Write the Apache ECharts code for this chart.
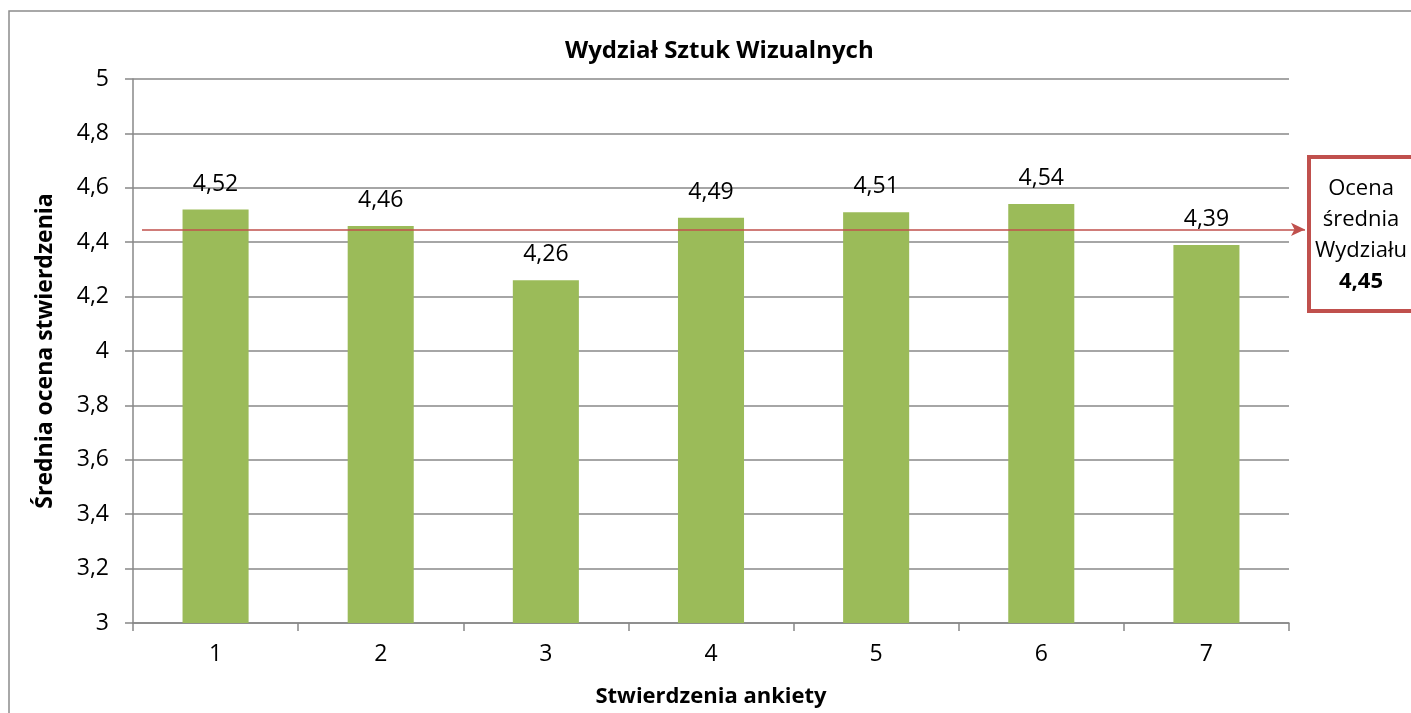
<!DOCTYPE html>
<html>
<head>
<meta charset="utf-8">
<script src="https://cdn.jsdelivr.net/npm/echarts@6/dist/echarts.min.js"></script>
<style>
  html, body { margin: 0; padding: 0; background: #fff; }
  #chart { width: 1411px; height: 713px; }
</style>
</head>
<body>
<div id="chart"></div>
<script>
// dane wykresu
const categories = ["1", "2", "3", "4", "5", "6", "7"];
const scores = [4.52, 4.46, 4.26, 4.49, 4.51, 4.54, 4.39];
const facultyMean = 4.45;
const yTicks = { min: 3, max: 5, step: 0.2 };

const fontFamily = "'Open Sans', sans-serif";
const fmt = (v) => String(Math.round(v * 100) / 100).replace(".", ",");

const chart = echarts.init(document.getElementById("chart"));

const option = {
  animation: false,
  textStyle: { fontFamily },
  title: {
    text: "Wydział Sztuk Wizualnych",
    left: 560,
    top: 34,
    textStyle: { fontSize: 24, fontWeight: "bold", color: "#000", fontFamily },
  },
  grid: [
    { left: 133, right: 122, top: 79, bottom: 87 },
    // druga siatka tylko dla linii średniej (wychodzi poza obszar wykresu)
    { left: 142, right: 106, top: 79, bottom: 87 },
  ],
  xAxis: [
    {
      type: "category",
      data: categories,
      gridIndex: 0,
      name: "Stwierdzenia ankiety",
      nameLocation: "middle",
      nameGap: 63,
      nameTextStyle: { fontSize: 22, fontWeight: "bold", color: "#000", fontFamily },
      axisLine: { lineStyle: { color: "#888", width: 1.5 } },
      axisTick: { show: true, length: 8, lineStyle: { color: "#888", width: 1.5 } },
      axisLabel: { fontSize: 23, color: "#000", margin: 20, fontFamily },
    },
    { type: "value", gridIndex: 1, min: 0, max: 1, show: false },
  ],
  yAxis: [
    {
      type: "value",
      gridIndex: 0,
      min: yTicks.min,
      max: yTicks.max,
      interval: yTicks.step,
      name: "Średnia ocena stwierdzenia",
      nameLocation: "middle",
      nameGap: 76,
      nameTextStyle: { fontSize: 23, fontWeight: "bold", color: "#000", fontFamily },
      axisLine: { show: true, lineStyle: { color: "#888", width: 1.5 } },
      axisTick: { show: true, length: 8, lineStyle: { color: "#888", width: 1.5 } },
      splitLine: { lineStyle: { color: "#888", width: 1.5 } },
      axisLabel: { fontSize: 23, color: "#000", margin: 24, formatter: fmt, fontFamily },
    },
    { type: "value", gridIndex: 1, min: yTicks.min, max: yTicks.max, show: false },
  ],
  series: [
    {
      type: "bar",
      data: scores,
      xAxisIndex: 0,
      yAxisIndex: 0,
      barWidth: "40%",
      itemStyle: { color: "#9BBB59" },
      label: {
        show: true,
        position: "top",
        distance: 14,
        fontSize: 23,
        color: "#000",
        fontFamily,
        formatter: (p) => fmt(p.value),
      },
    },
    {
      type: "line",
      xAxisIndex: 1,
      yAxisIndex: 1,
      data: [],
      markLine: {
        silent: true,
        symbol: ["none", "arrow"],
        symbolSize: [10, 14],
        label: { show: false },
        lineStyle: { color: "#C0504D", width: 1.5, type: "solid" },
        data: [[{ coord: [0, facultyMean] }, { coord: [1, facultyMean] }]],
      },
    },
  ],
  graphic: [
    {
      type: "rect",
      z: -10,
      shape: { x: 9, y: 11, width: 1500, height: 800 },
      style: { fill: "none", stroke: "#8c8c8c", lineWidth: 1.5 },
    },
    {
      type: "rect",
      shape: { x: 1309, y: 157, width: 120, height: 154 },
      style: { fill: "#fff", stroke: "#C0504D", lineWidth: 4 },
    },
    {
      type: "text",
      x: 1361,
      y: 235,
      style: {
        text: "Ocena\nśrednia\nWydziału\n{b|" + fmt(facultyMean) + "}",
        align: "center",
        verticalAlign: "middle",
        fontSize: 22,
        lineHeight: 31,
        fill: "#000",
        fontFamily,
        rich: { b: { fontSize: 22, fontWeight: "bold", fontFamily, lineHeight: 31 } },
      },
    },
  ],
};

chart.setOption(option);
</script>
</body>
</html>
